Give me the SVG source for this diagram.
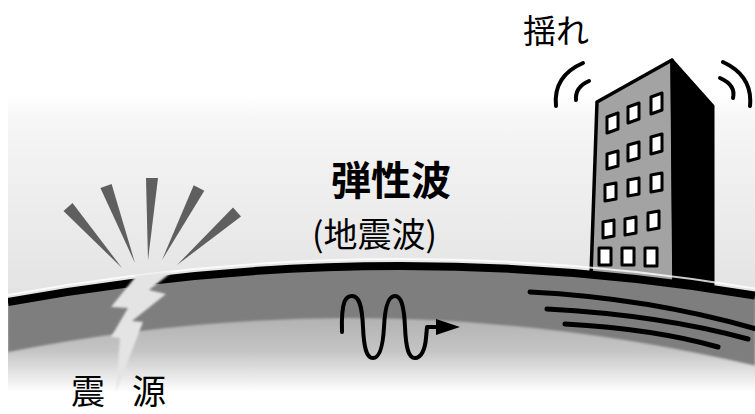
<svg xmlns="http://www.w3.org/2000/svg" width="755" height="414" viewBox="0 0 755 414">
  <defs>
    <linearGradient id="skyGrad" gradientUnits="userSpaceOnUse" x1="0" y1="95" x2="0" y2="295">
      <stop offset="0" stop-color="#ffffff"/>
      <stop offset="0.12" stop-color="#f6f6f6"/>
      <stop offset="1" stop-color="#e3e3e3"/>
    </linearGradient>
    <linearGradient id="lowGrad" gradientUnits="userSpaceOnUse" x1="0" y1="300" x2="0" y2="392">
      <stop offset="0" stop-color="#a8a8a8"/>
      <stop offset="0.55" stop-color="#c4c4c4"/>
      <stop offset="1" stop-color="#ffffff"/>
    </linearGradient>
    <filter id="soft" x="-5%" y="-20%" width="110%" height="140%">
      <feGaussianBlur stdDeviation="1.3"/>
    </filter>
    <marker id="arrowHead" viewBox="0 0 24 16" refX="2" refY="8" markerWidth="24" markerHeight="16" markerUnits="userSpaceOnUse" orient="auto">
      <path d="M0,0 L24,8 L0,16 Z" fill="#000"/>
    </marker>
    <style>
      .ray { fill: #5f5f5f; }
      .win { fill: #ffffff; stroke: #000; stroke-width: 3; stroke-linejoin: round; }
      .arc { fill: none; stroke: #000; stroke-width: 4; stroke-linecap: round; }
      .strata { fill: none; stroke: #000; stroke-width: 5; stroke-linecap: round; }
      .label { font-family: "Noto Sans CJK JP", "Noto Sans CJK SC", sans-serif; fill: #000; }
    </style>
  </defs>

  <rect width="755" height="414" fill="#ffffff"/>

  <!-- sky band -->
  <rect id="sky" x="8" y="95" width="747" height="215" fill="url(#skyGrad)"/>

  <!-- building (drawn before the ground line so the line covers its base) -->
  <g id="building">
    <path d="M597,102 L672,60 L674,284 L591,275 Z" fill="#a3a3a3" stroke="#000" stroke-width="3.5" stroke-linejoin="round"/>
    <path d="M672,60 L713,106 L713,292 L674,284 Z" fill="#000" stroke="#000" stroke-width="3" stroke-linejoin="round"/>
    <!-- row 1 -->
    <path class="win" d="M607,117 L618,113 L618,129 L607,133 Z"/>
    <path class="win" d="M628,107 L639,103 L639,119 L628,123 Z"/>
    <path class="win" d="M651,97 L662,93 L662,110 L651,114 Z"/>
    <!-- row 2 -->
    <path class="win" d="M607,154 L618,151 L618,166 L607,169 Z"/>
    <path class="win" d="M628,145 L639,142 L639,158 L628,161 Z"/>
    <path class="win" d="M651,137 L662,134 L662,151 L651,154 Z"/>
    <!-- row 3 -->
    <path class="win" d="M605,185 L616,183 L616,199 L605,201 Z"/>
    <path class="win" d="M628,180 L639,178 L639,194 L628,196 Z"/>
    <path class="win" d="M651,175 L662,173 L662,190 L651,192 Z"/>
    <!-- row 4 -->
    <path class="win" d="M603,222 L614,220 L614,236 L603,238 Z"/>
    <path class="win" d="M625,219 L636,217 L636,233 L625,235 Z"/>
    <path class="win" d="M648,213 L659,211 L659,228 L648,230 Z"/>
    <!-- row 5 -->
    <path class="win" d="M599,248 L611,248 L611,265 L599,265 Z"/>
    <path class="win" d="M622,248 L634,248 L634,265 L622,265 Z"/>
    <path class="win" d="M645,248 L657,248 L657,266 L645,266 Z"/>
    <!-- sway marks -->
    <path class="arc" d="M583,63 Q553,76 556,106"/>
    <path class="arc" d="M589,81 Q575,87 576,100"/>
    <path class="arc" d="M723,62 Q753,76 750,106"/>
    <path class="arc" d="M720,78 Q736,85 733,98"/>
  </g>

  <!-- ground: lower haze, crust band, surface line -->
  <g id="ground">
    <path d="M8,302 Q381.5,233.5 755,295.5 L755,414 L8,414 Z" fill="url(#lowGrad)"/>
    <rect x="0" y="392" width="755" height="22" fill="#ffffff"/>
    <path d="M8,302 Q381.5,233.5 755,295.5 L755,365.6 Q381.5,278 8,352 Z" fill="#7e7e7e" filter="url(#soft)"/>
    <path d="M8,295 Q381.5,226.5 755,288.5" fill="none" stroke="#ffffff" stroke-width="2" opacity="0.8"/>
    <path d="M8,302 Q381.5,233.5 755,295.5" fill="none" stroke="#000" stroke-width="8"/>
    <rect x="0" y="280" width="8" height="134" fill="#ffffff"/>
  </g>

  <!-- fault crack at the hypocentre -->
  <path id="crack" d="M137,275 L172,272 L149,290 L166,294 L132,321 L143,322 L116,392 L120,338 L111,337 L128,308 L111,307 Z" fill="#e4e4e4" filter="url(#soft)"/>

  <!-- radiating rays -->
  <g id="rays">
    <polygon class="ray" points="63.5,211 72.5,203 122,268"/>
    <polygon class="ray" points="100.4,188 111.6,184 135,263"/>
    <polygon class="ray" points="146,178 158,178 148,260"/>
    <polygon class="ray" points="193.7,185.3 204.3,190.7 162,260"/>
    <polygon class="ray" points="233,207.5 241,216.5 177,265"/>
  </g>

  <!-- wave travelling through the crust -->
  <g id="wave">
    <path d="M342,332 C341,300 346,296 352,296 C359,296 362,305 363,327 C364,350 367,358 373,358 C380,358 383,345 384,327 C385,305 389,296 395,296 C401,296 404,305 405,327 C406,350 409,358 415,358 C421,358 425,350 426,338 L427,327 L438,327" fill="none" stroke="#000" stroke-width="4" stroke-linejoin="round" stroke-linecap="round" marker-end="url(#arrowHead)"/>
  </g>

  <!-- strata under the building -->
  <g id="strata">
    <path class="strata" d="M530,292 Q650,298 760,330"/>
    <path class="strata" d="M547,309 Q660,315 748,339"/>
    <path class="strata" d="M565,324 Q655,329 718,347"/>
  </g>

  <!-- labels -->
  <g id="labels">
    <text class="label" x="523" y="43" font-size="33">揺れ</text>
    <text class="label" x="331" y="195" font-size="40" font-weight="bold">弾性波</text>
    <text class="label" x="312" y="247" font-size="34">(地震波)</text>
    <text class="label" x="71 106 132" y="404" font-size="34">震 源</text>
  </g>
</svg>
